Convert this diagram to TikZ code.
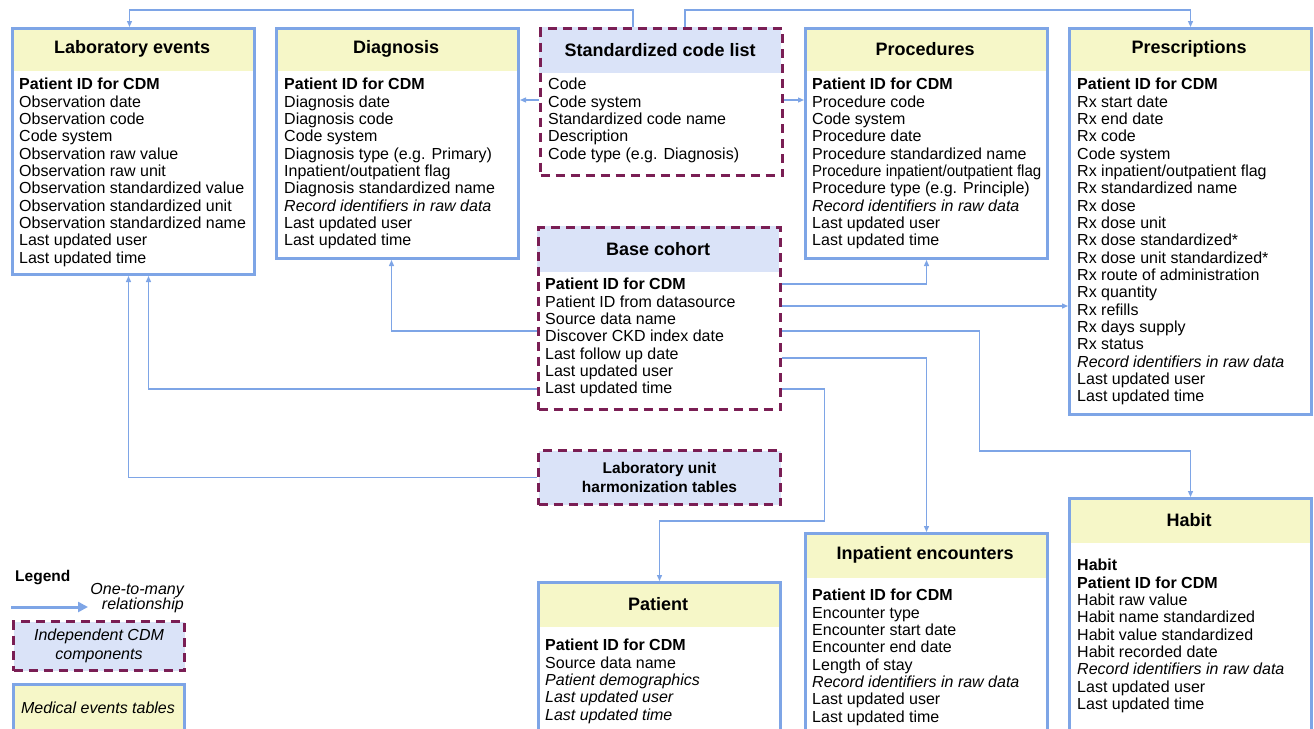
\documentclass[tikz,border=0pt]{standalone}
\usepackage{fontspec}
\setmainfont{Liberation Sans}
\usepackage{tikz}
\usetikzlibrary{arrows.meta,calc,positioning}
\definecolor{cdmblue}{RGB}{126,165,230}
\definecolor{hdryellow}{RGB}{246,247,200}
\definecolor{hdrblue}{RGB}{218,227,248}
\definecolor{cdmmaroon}{RGB}{122,30,84}

\begin{document}
\begin{tikzpicture}[x=1pt,y=-1pt,
  tablebox/.style={draw=cdmblue,line width=3pt,anchor=north west,inner sep=0pt,minimum width=242pt},
  cdmbox/.style={tablebox,draw=cdmmaroon,dash pattern=on 9pt off 6pt},
  head/.style={anchor=north west,inner sep=0pt,minimum width=242pt,minimum height=44pt,font=\fontsize{18}{20}\selectfont\bfseries},
  medhead/.style={head,fill=hdryellow},
  cdmhead/.style={head,fill=hdrblue},
  fields/.style={anchor=north west,inner sep=0pt,align=left,font=\fontsize{16}{17.33}\selectfont},
  legtext/.style={inner sep=0pt,font=\fontsize{16}{15.5}\selectfont\itshape},
  rel/.style={draw=cdmblue,line width=1.3pt,-{Triangle[length=6pt,width=5pt]}},
  legrel/.style={draw=cdmblue,line width=3pt,-{Triangle[length=10pt,width=10pt]}},
]
\useasboundingbox (0,0) rectangle (1314,728);

% medical events tables, top row
\node[medhead] at (11,27) {Laboratory events};
\node[tablebox,minimum height=246pt] (lab) at (11,27) {};
\node[fields] (labf) at ($(lab.north west)+(8,51)$) {\textbf{Patient ID for CDM}\\Observation date\\Observation code\\Code system\\Observation raw value\\Observation raw unit\\Observation standardized value\\Observation standardized unit\\Observation standardized name\\Last updated user\\Last updated time};

\node[medhead] at (275,27) {Diagnosis};
\node[tablebox,minimum height=230pt] (diag) at (275,27) {};
\node[fields] (diagf) at ($(diag.north west)+(9,51)$) {\textbf{Patient ID for CDM}\\Diagnosis date\\Diagnosis code\\Code system\\Diagnosis type (e.g. Primary)\\Inpatient/outpatient flag\\Diagnosis standardized name\\\textit{Record identifiers in raw data}\\Last updated user\\Last updated time};

\node[cdmhead,minimum height=46pt] at (539,27) {Standardized code list};
\node[cdmbox,minimum height=147pt] (codes) at (539,27) {};
\node[fields] (codesf) at ($(codes.north west)+(9,51)$) {Code\\Code system\\Standardized code name\\Description\\Code type (e.g. Diagnosis)};

\node[medhead] at (804,27) {Procedures};
\node[tablebox,minimum height=230pt] (proc) at (804,27) {};
\node[fields] (procf) at ($(proc.north west)+(8,51)$) {\textbf{Patient ID for CDM}\\Procedure code\\Code system\\Procedure date\\Procedure standardized name\\\scalebox{0.94}[1]{Procedure inpatient/outpatient flag}\\Procedure type (e.g. Principle)\\\textit{Record identifiers in raw data}\\Last updated user\\Last updated time};

\node[medhead] at (1068,27) {Prescriptions};
\node[tablebox,minimum height=386pt] (rx) at (1068,27) {};
\node[fields] (rxf) at ($(rx.north west)+(9,51)$) {\textbf{Patient ID for CDM}\\Rx start date\\Rx end date\\Rx code\\Code system\\Rx inpatient/outpatient flag\\Rx standardized name\\Rx dose\\Rx dose unit\\Rx dose standardized*\\Rx dose unit standardized*\\Rx route of administration\\Rx quantity\\Rx refills\\Rx days supply\\Rx status\\\textit{Record identifiers in raw data}\\Last updated user\\Last updated time};

% independent components
\node[cdmhead,minimum height=46pt] at (537,226) {Base cohort};
\node[cdmbox,minimum height=182pt] (base) at (537,226) {};
\node[fields] (basef) at ($(base.north west)+(8,52)$) {\textbf{Patient ID for CDM}\\Patient ID from datasource\\Source data name\\Discover CKD index date\\Last follow up date\\Last updated user\\Last updated time};

\node[cdmbox,fill=hdrblue,minimum height=54pt,align=center,font=\fontsize{15.5}{19}\selectfont\bfseries] (unit) at (537,449) {Laboratory unit\\harmonization tables};

% lower row
\node[medhead,minimum height=46pt] at (1068,497) {Habit};
\node[tablebox,minimum height=250pt] (habit) at (1068,497) {};
\node[fields] (habitf) at ($(habit.north west)+(9,62)$) {\textbf{Habit}\\\textbf{Patient ID for CDM}\\Habit raw value\\Habit name standardized\\Habit value standardized\\Habit recorded date\\\textit{Record identifiers in raw data}\\Last updated user\\Last updated time};

\node[medhead,minimum height=46pt] at (804,532) {Inpatient encounters};
\node[tablebox,minimum height=220pt] (inpat) at (804,532) {};
\node[fields] (inpatf) at ($(inpat.north west)+(8,57)$) {\textbf{Patient ID for CDM}\\Encounter type\\Encounter start date\\Encounter end date\\Length of stay\\\textit{Record identifiers in raw data}\\Last updated user\\Last updated time};

\node[medhead,minimum height=46pt] at (537,581) {Patient};
\node[tablebox,minimum height=180pt] (patient) at (537,581) {};
\node[fields] (patientf) at ($(patient.north west)+(8,58)$) {\textbf{Patient ID for CDM}\\Source data name\\\textit{Patient demographics}\\\textit{Last updated user}\\\textit{Last updated time}};

% one-to-many relationships
\coordinate (be1) at ($(base.north east)+(0,58)$);
\coordinate (be2) at ($(base.north east)+(0,80)$);
\coordinate (be3) at ($(base.north east)+(0,105)$);
\coordinate (be4) at ($(base.north east)+(0,132)$);
\coordinate (be5) at ($(base.north east)+(0,163)$);
\coordinate (bw3) at ($(base.north west)+(0,105)$);
\coordinate (bw5) at ($(base.north west)+(0,163)$);
\coordinate (ce) at ($(codes.north east)+(0,73)$);
\coordinate (cw) at ($(codes.north west)+(0,73)$);

\draw[rel] ($(codes.north west)+(94,0)$) -- ++(0,-17) -| ($(lab.north)+(-4,0)$);
\draw[rel] ($(codes.north west)+(146,0)$) -- ++(0,-17) -| (rx.north);
\draw[rel] (cw) -- (cw -| diag.east);
\draw[rel] (ce) -- (ce -| proc.west);
\draw[rel] (be1) -| (proc.south);
\draw[rel] (be2) -- (be2 -| rx.west);
\draw[rel] (be3) -| ($(habit.north)+(-211,-46)$) -| (habit.north);
\draw[rel] (be4) -| (inpat.north);
\draw[rel] (be5) -| ($(patient.north)+(165,-60)$) -| (patient.north);
\draw[rel] (bw3) -| ($(diag.south)+(-6,0)$);
\draw[rel] (bw5) -| ($(lab.south)+(15,0)$);
\draw[rel] (unit.west) -| ($(lab.south)+(-5,0)$);

% legend
\node[anchor=west,inner sep=0pt,font=\fontsize{15.5}{17}\selectfont\bfseries] (legend) at (15,578) {Legend};
\coordinate (legs) at (11,607);
\coordinate (lege) at (88,607);
\draw[legrel] (legs) -- (lege);
\node[legtext,align=right,anchor=east] (legrelt) at (184,598) {One-to-many\\relationship};
\node[cdmbox,fill=hdrblue,minimum width=171pt,minimum height=49pt,align=center,font=\fontsize{16}{19}\selectfont\itshape] (legcdm) at (12,620) {Independent CDM\\components};
\node[medhead,minimum width=171pt,minimum height=60pt] at (12,683) {};
\node[tablebox,minimum width=171pt,minimum height=60pt] (legmed) at (12,683) {};
\node[legtext] (legmedt) at (98,708) {Medical events tables};
\end{tikzpicture}
\end{document}
